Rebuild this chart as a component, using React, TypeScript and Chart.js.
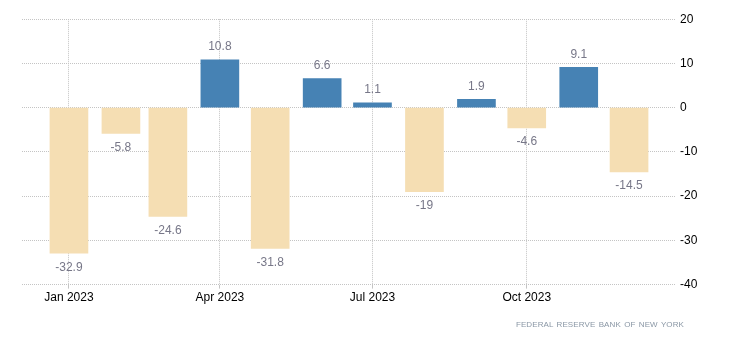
import React, { useEffect, useRef } from "react";
import { Chart, registerables } from "chart.js";

Chart.register(...registerables);

const months = ["2023-01-01","2023-02-01","2023-03-01","2023-04-01","2023-05-01","2023-06-01","2023-07-01","2023-08-01","2023-09-01","2023-10-01","2023-11-01","2023-12-01"];
const values = [-32.9, -5.8, -24.6, 10.8, -31.8, 6.6, 1.1, -19, 1.9, -4.6, 9.1, -14.5];
const xTickDates = ["2023-01-01", "2023-04-01", "2023-07-01", "2023-10-01"];
const xTickLabels = ["Jan 2023", "Apr 2023", "Jul 2023", "Oct 2023"];
const yTicks = [20, 10, 0, -10, -20, -30, -40];
const sourceText = "FEDERAL RESERVE BANK OF NEW YORK";

const DAY = 86400000;
const base = Date.UTC(2023, 0, 1);
const dayOf = (s: string) => {
  const [y, m, d] = s.split("-").map(Number);
  return Math.round((Date.UTC(y, m - 1, d) - base) / DAY);
};

const POS = "#4682b4";
const NEG = "#f5deb3";
const FONT = "'Liberation Sans', Arial, sans-serif";

const labelPlugin = {
  id: "valueLabels",
  afterDatasetsDraw(chart: any) {
    const ctx = chart.ctx;
    const meta = chart.getDatasetMeta(0);
    ctx.save();
    ctx.font = `12px ${FONT}`;
    ctx.fillStyle = "#777788";
    ctx.textAlign = "center";
    ctx.textBaseline = "middle";
    meta.data.forEach((el: any, i: number) => {
      const v = values[i];
      const y = v >= 0 ? el.y - 13 : el.y + 14;
      ctx.fillText(String(v), el.x, y);
    });
    ctx.restore();
  },
};

export default function App() {
  const ref = useRef<HTMLCanvasElement>(null);
  useEffect(() => {
    if (!ref.current) return;
    const tickDays = xTickDates.map(dayOf);
    const chart = new Chart(ref.current, {
      type: "bar",
      data: {
        datasets: [
          {
            data: months.map((m, i) => ({ x: dayOf(m), y: values[i] })),
            backgroundColor: values.map((v) => (v >= 0 ? POS : NEG)),
            barThickness: 38,
            borderWidth: 0,
          },
        ],
      },
      options: {
        animation: false,
        responsive: true,
        maintainAspectRatio: false,
        layout: { padding: { left: 14, top: 4, right: 0, bottom: 36 } },
        plugins: { legend: { display: false }, tooltip: { enabled: false } },
        scales: {
          x: {
            type: "linear",
            min: -28,
            max: 362,
            offset: false,
            border: { display: false, dash: [1, 1] },
            afterBuildTicks: (s: any) => {
              s.ticks = tickDays.map((v) => ({ value: v }));
            },
            grid: {
              color: "#c4c4c4",
              lineWidth: 1,
              tickLength: 4,
              drawTicks: true,
              offset: false,
            },
            ticks: {
              autoSkip: false,
              maxRotation: 0,
              padding: 2,
              color: "#000",
              font: { family: FONT, size: 12 },
              callback: (v: any) => {
                const idx = tickDays.indexOf(Number(v));
                return idx >= 0 ? xTickLabels[idx] : "";
              },
            },
          },
          y: {
            position: "right",
            min: -40,
            max: 20,
            border: { display: false, dash: [1, 1] },
            afterBuildTicks: (s: any) => {
              s.ticks = yTicks.map((v) => ({ value: v }));
            },
            afterFit: (s: any) => {
              s.width = 48;
            },
            grid: { color: "#c4c4c4", drawTicks: false },
            ticks: {
              padding: 4,
              color: "#000",
              font: { family: FONT, size: 12 },
            },
          },
        },
      },
      plugins: [labelPlugin],
    } as any);
    return () => chart.destroy();
  }, []);

  return (
    <div style={{ position: "relative", width: 716, height: 335 }}>
      <canvas ref={ref} />
      <div
        style={{
          position: "absolute",
          right: 40,
          top: 312,
          fontFamily: FONT,
          fontSize: 8,
          letterSpacing: 0.1,
          wordSpacing: 1,
          color: "#8a97a5",
          whiteSpace: "nowrap",
        }}
      >
        {sourceText}
      </div>
    </div>
  );
}
